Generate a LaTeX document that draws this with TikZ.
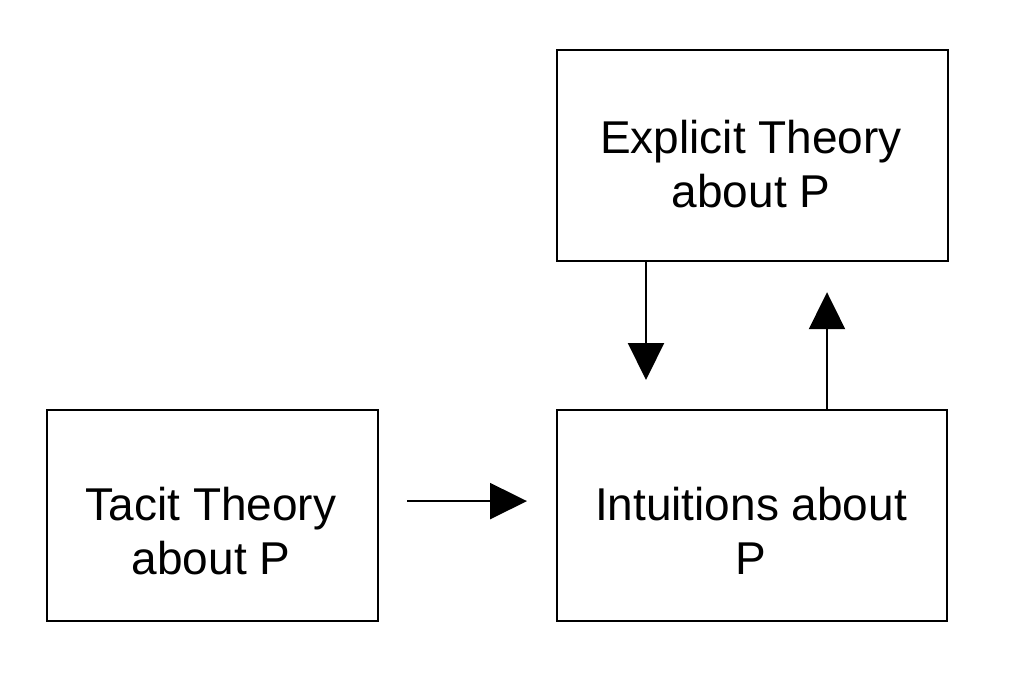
\documentclass[tikz,border=0pt]{standalone}
\usepackage{fontspec}
\setmainfont{Liberation Sans}
\usetikzlibrary{arrows.meta}
\begin{document}
\begin{tikzpicture}[x=1pt,y=-1pt,
  box/.style={draw, line width=2.2pt, inner sep=0pt, anchor=north west},
  txt/.style={inner sep=0pt, anchor=north, align=center, font=\fontsize{46}{54}\selectfont},
  arr/.style={line width=2.2pt, -{Triangle[length=37pt,width=36pt]}}]
\useasboundingbox (0,0) rectangle (1033,687);
\node[box, minimum width=391pt, minimum height=211pt] (ex) at (556,49) {};
\node[box, minimum width=331pt, minimum height=211pt] (ta) at (46,409) {};
\node[box, minimum width=390pt, minimum height=211pt] (in) at (556,409) {};
\node[txt] (ext) at (751,119.5) {Explicit Theory\\about P};
\node[txt] (tat) at (211,486.5) {Tacit Theory\\about P};
\node[txt] (int) at (751,486.5) {Intuitions about\\P};
\draw[arr, shorten >=29pt] ([xshift=90pt]ex.south west) -- ([xshift=90pt]in.north west);
\draw[arr, shorten >=30pt] ([xshift=271pt]in.north west) -- ([xshift=271pt]ex.south west);
\draw[arr, shorten <=28pt, shorten >=29pt] ([yshift=14.5pt]ta.east) -- ([yshift=14.5pt]in.west);
\end{tikzpicture}
\end{document}
